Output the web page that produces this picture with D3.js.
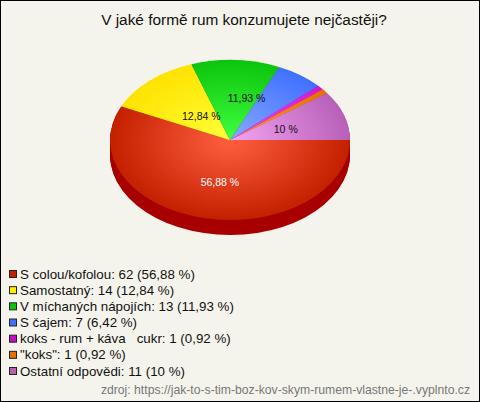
<!DOCTYPE html>
<html><head><meta charset="utf-8">
<script src="https://cdn.jsdelivr.net/npm/d3@7/dist/d3.min.js"></script>
<style>html,body{margin:0;padding:0;background:#f5f4ec}svg{display:block}text{font-family:"Liberation Sans",Arial,sans-serif;white-space:pre}</style>
</head><body><svg id="c" width="480" height="402"></svg>
<script>
const categories=["S colou/kofolou","Samostatný","V míchaných nápojích","S čajem","koks - rum + káva   cukr","\"koks\"","Ostatní odpovědi"];
const counts=[62,14,13,7,1,1,11];
const percentLabels=["56,88 %","12,84 %","11,93 %","6,42 %","0,92 %","0,92 %","10 %"];
const sliceLabels=["56,88 %","12,84 %","11,93 %","","","","10 %"];
const shares=[56.88,12.84,11.93,6.42,0.92,0.92,10];
const innerColors=["#ff5f40","#ffff38","#40ff40","#88a8ff","#ff40ff","#ff9a20","#f4a4f4"];
const outerColors=["#c42000","#ffe200","#0cc40c","#4070ff","#d018d0","#e87000","#b860b8"];
const sideColors=["#a80000","#c0a800","#089008","#3050c0","#a010a0","#b05000","#8a4a8a"];
const legendColors=["#c42000","#ffee00","#0cc40c","#4070ff","#c010c0","#e87000","#b860b0"];
const title="V jaké formě rum konzumujete nejčastěji?";
const source="zdroj: https://jak-to-s-tim-boz-kov-skym-rumem-vlastne-je-.vyplnto.cz";

const svg=d3.select("#c");
svg.append("rect").attr("x",.5).attr("y",.5).attr("width",479).attr("height",401).attr("fill","#f5f4ec").attr("stroke","#000");
svg.append("text").attr("x",244).attr("y",25).attr("text-anchor","middle").attr("font-size",15.4).attr("fill","#111").text(title);

const cx=230,cy=140,R=120,squash=2/3,depth=15;
const pie=d3.pie().sort(null).startAngle(Math.PI/2).endAngle(Math.PI/2+2*Math.PI);
const arcs=pie(shares);
const arc=d3.arc().innerRadius(0).outerRadius(R);
const defs=svg.append("defs");
arcs.forEach((d,i)=>{
  const g=defs.append("radialGradient").attr("id","g"+i).attr("gradientUnits","userSpaceOnUse").attr("cx",0).attr("cy",0).attr("r",R);
  g.append("stop").attr("offset",0).attr("stop-color",innerColors[i]);
  g.append("stop").attr("offset",1).attr("stop-color",outerColors[i]);
});
d3.range(depth,0,-1).forEach(dz=>{
  svg.append("g").attr("transform",`translate(${cx},${cy+dz}) scale(1,${squash})`)
    .selectAll("path").data(arcs).join("path").attr("d",arc)
    .attr("fill",(d,i)=>sideColors[i]);
});
svg.append("g").attr("transform",`translate(${cx},${cy}) scale(1,${squash})`)
  .selectAll("path").data(arcs).join("path").attr("d",arc).attr("fill",(d,i)=>`url(#g${i})`);

const labelArc=d3.arc().innerRadius(R*0.62).outerRadius(R*0.62);
const nudgeX=[6,21,13,0,0,0,-15], nudgeY=[-6,13,8,0,0,0,4];
svg.append("g").selectAll("text").data(arcs).join("text")
  .attr("x",(d,i)=>cx+labelArc.centroid(d)[0]+nudgeX[i])
  .attr("y",(d,i)=>cy+labelArc.centroid(d)[1]*squash+4+nudgeY[i])
  .attr("text-anchor","middle").attr("font-size",10.5)
  .attr("fill",(d,i)=>i===0?"#fff":"#111").text((d,i)=>sliceLabels[i]);

const y=d3.scalePoint().domain(d3.range(categories.length)).range([274,371]);
const lg=svg.append("g").selectAll("g").data(categories).join("g").attr("transform",(d,i)=>`translate(0,${y(i)})`);
lg.append("rect").attr("x",9.5).attr("y",-3.5).attr("width",7).attr("height",7).attr("fill",(d,i)=>legendColors[i]).attr("stroke","#222").attr("stroke-width",1);
lg.append("text").attr("x",20).attr("y",4.5).attr("font-size",13.33).attr("fill","#111")
  .text((d,i)=>`${d}: ${counts[i]} (${percentLabels[i]})`);
svg.append("text").attr("x",470).attr("y",394).attr("text-anchor","end").attr("font-size",12.2).attr("fill","#777").text(source);
</script></body></html>
